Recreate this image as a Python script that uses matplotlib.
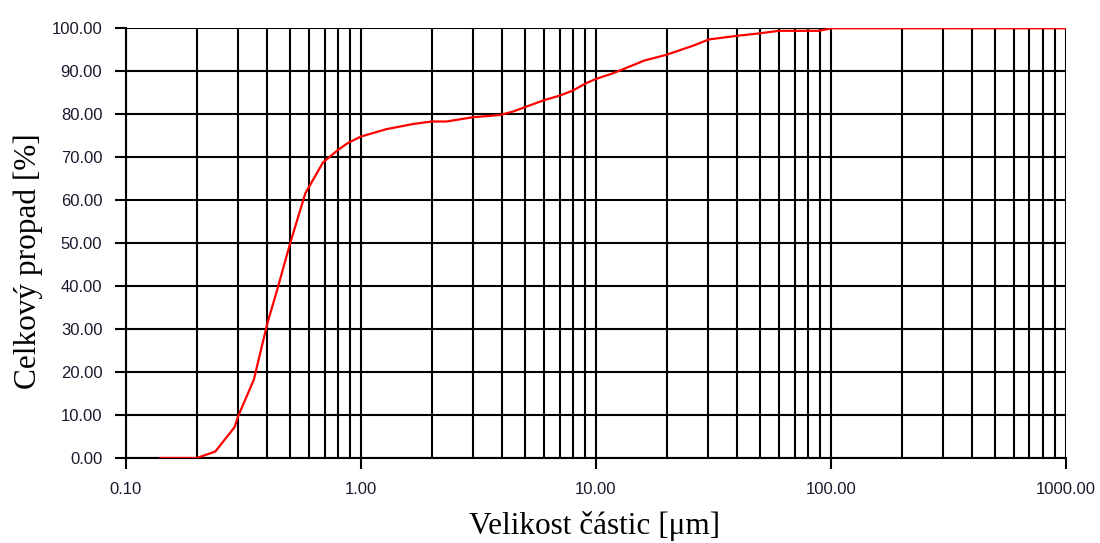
import numpy as np
import matplotlib
matplotlib.use("Agg")
import matplotlib.pyplot as plt
from matplotlib.ticker import FixedLocator, FuncFormatter, NullFormatter

# particle size [um] and cumulative passing [%]
size_um = [0.14, 0.20, 0.24, 0.29, 0.30, 0.35, 0.40, 0.44, 0.50, 0.58, 0.69,
           0.80, 0.88, 1.00, 1.28, 1.66, 2.00, 2.31, 3.00, 3.90, 4.43, 4.97,
           6.04, 7.00, 7.97, 9.08, 10.0, 11.8, 16.1, 19.9, 25.8, 30.3, 39.4,
           49.5, 60.2, 89.0, 101.0, 1000.0]
passing = [0.0, 0.0, 1.5, 7.2, 9.7, 18.2, 31.4, 39.1, 50.0, 61.6, 68.8,
           71.7, 73.3, 74.8, 76.5, 77.7, 78.3, 78.3, 79.3, 79.8, 80.6, 81.6,
           83.3, 84.3, 85.5, 87.2, 88.2, 89.5, 92.5, 93.8, 95.9, 97.4, 98.2,
           98.8, 99.4, 99.4, 100.0, 100.0]

x_major = [0.1, 1, 10, 100, 1000]
y_major = [0, 10, 20, 30, 40, 50, 60, 70, 80, 90, 100]

fig = plt.figure(figsize=(11, 5.43), dpi=100)
ax = fig.add_axes([0.1145, 0.1565, 0.8545, 0.7915])

ax.set_xscale("log")
ax.set_xlim(0.1, 1000)
ax.set_ylim(0, 100)

# grid on every 1..9 of each decade
minors = [m * 10.0 ** e for e in range(-1, 3) for m in range(2, 10)]
ax.xaxis.set_major_locator(FixedLocator(x_major))
ax.xaxis.set_minor_locator(FixedLocator(minors))
ax.xaxis.set_minor_formatter(NullFormatter())
ax.xaxis.set_major_formatter(FuncFormatter(lambda v, p: f"{v:.2f}"))
ax.yaxis.set_major_locator(FixedLocator(y_major))
ax.yaxis.set_major_formatter(FuncFormatter(lambda v, p: f"{v:.2f}"))

ax.grid(True, which="both", axis="x", color="black", linewidth=1.5)
ax.grid(True, which="major", axis="y", color="black", linewidth=1.5)
ax.set_axisbelow(True)

ax.plot(size_um, passing, color="#ff0000", linewidth=1.6, zorder=3)

for s in ["top", "right"]:
    ax.spines[s].set_visible(False)
for s in ["left", "bottom"]:
    ax.spines[s].set_linewidth(1.5)

ax.tick_params(axis="x", which="major", direction="out", length=8, width=1.5, pad=9)
ax.tick_params(axis="x", which="minor", length=0)
ax.tick_params(axis="y", which="major", direction="out", length=8, width=1.5, pad=9)
for lab in ax.get_xticklabels() + ax.get_yticklabels():
    lab.set_fontfamily("Liberation Sans")
    lab.set_fontsize(12)
    lab.set_color("#1a1a2e")

# axis titles, placed like in the original
fig.text(594.5 / 1100, 1 - 526 / 543, "Velikost částic [μm]",
         family="Liberation Serif", fontsize=22.5, ha="center", va="center")
fig.text(28 / 1100, 1 - 261 / 543, "Celkový propad [%]",
         family="Liberation Serif", fontsize=22.5, ha="center", va="center",
         rotation=90)

fig.savefig("out.png", dpi=100)
